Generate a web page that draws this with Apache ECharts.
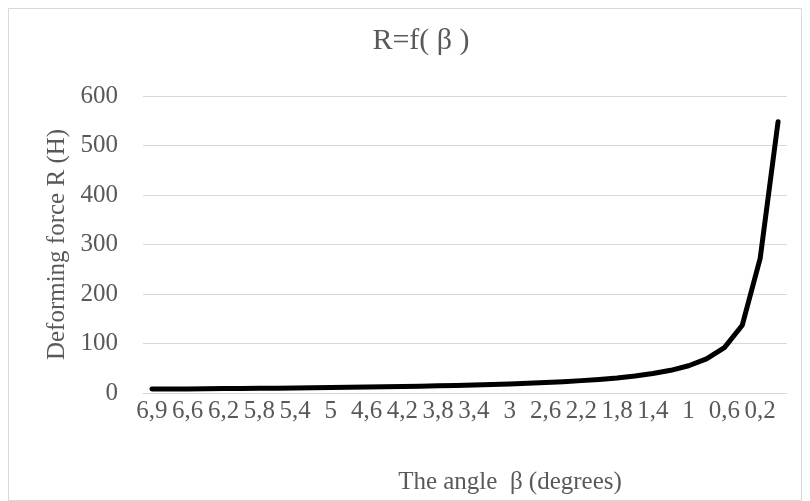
<!DOCTYPE html>
<html>
<head>
<meta charset="utf-8">
<script src="https://cdn.jsdelivr.net/npm/echarts@6/dist/echarts.min.js"></script>
<style>
  html, body { margin: 0; padding: 0; background: #fff; }
  #chart { width: 810px; height: 501px; }
</style>
</head>
<body>
<div id="chart"></div>
<script>
// Angle β (degrees), as category labels
var angles = ['6,9','6,8','6,6','6,4','6,2','6','5,8','5,6','5,4','5,2','5','4,8','4,6','4,4','4,2','4','3,8','3,6','3,4','3,2','3','2,8','2,6','2,4','2,2','2','1,8','1,6','1,4','1,2','1','0,8','0,6','0,4','0,2','0,1'];
// Deforming force R (H)
var force = [8, 8.1, 8.3, 8.6, 8.9, 9.2, 9.5, 9.8, 10.2, 10.6, 11, 11.5, 12, 12.5, 13.1, 13.7, 14.5, 15.3, 16.2, 17.2, 18.3, 19.6, 21.1, 22.9, 25, 27.5, 30.5, 34.4, 39.3, 45.8, 55, 68.8, 91.7, 137, 272, 548];
var yTicks = [0, 100, 200, 300, 400, 500, 600];

var font = 'Liberation Serif, Times New Roman, serif';
var textColor = '#595959';
var gridColor = '#d9d9d9';

var chart = echarts.init(document.getElementById('chart'));
chart.setOption({
  animation: false,
  backgroundColor: '#ffffff',
  title: {
    text: 'R=f( β )',
    left: 416, top: 21, textAlign: 'center',
    textStyle: { fontFamily: font, fontSize: 30, fontWeight: 'normal', color: textColor }
  },
  graphic: [{
    type: 'rect',
    shape: { x: 8.5, y: 8.5, width: 793, height: 492 },
    style: { fill: 'none', stroke: gridColor, lineWidth: 1 },
    silent: true, z: -1
  }],
  grid: { left: 143, right: 23, top: 96, bottom: 108 },
  xAxis: {
    type: 'category',
    data: angles,
    boundaryGap: true,
    name: 'The angle  β (degrees)',
    nameLocation: 'middle',
    nameGap: 77,
    nameTextStyle: { fontFamily: font, fontSize: 25, color: textColor, padding: [0, 0, 0, 90] },
    axisLine: { show: true, lineStyle: { color: gridColor, width: 1 } },
    axisTick: { show: false },
    axisLabel: { interval: 1, fontFamily: font, fontSize: 25, color: textColor, margin: 6, hideOverlap: false }
  },
  yAxis: {
    type: 'value',
    min: yTicks[0], max: yTicks[yTicks.length - 1], interval: 100,
    name: 'Deforming force R (H)',
    nameLocation: 'middle',
    nameGap: 73,
    nameTextStyle: { fontFamily: font, fontSize: 25, color: textColor },
    axisLine: { show: false },
    axisTick: { show: false },
    splitLine: { lineStyle: { color: gridColor, width: 1 } },
    axisLabel: { fontFamily: font, fontSize: 25, color: textColor, margin: 25 }
  },
  series: [{
    type: 'line',
    data: force,
    showSymbol: false,
    smooth: false,
    lineStyle: { color: '#000000', width: 5, cap: 'round', join: 'round' },
    itemStyle: { color: '#000000' }
  }]
});
</script>
</body>
</html>
